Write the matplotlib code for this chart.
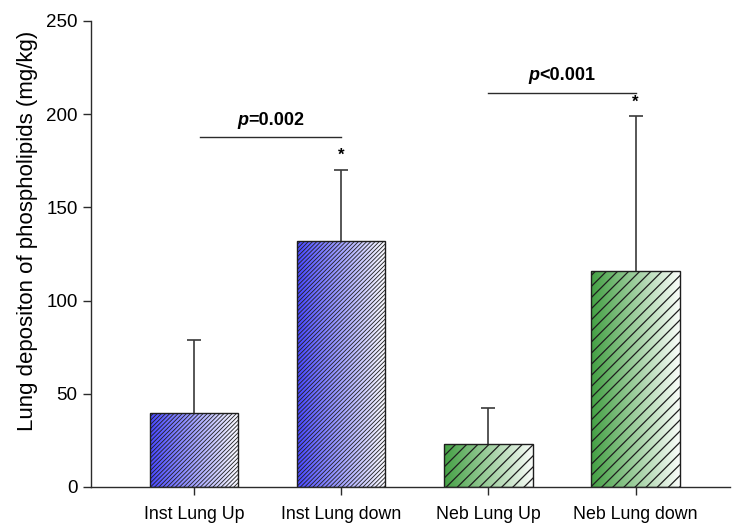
import matplotlib
matplotlib.use("Agg")
import matplotlib.pyplot as plt
import numpy as np
from matplotlib.colors import LinearSegmentedColormap
from matplotlib.offsetbox import AnnotationBbox, HPacker, TextArea

plt.rcParams["font.family"] = ["Liberation Sans", "DejaVu Sans"]
plt.rcParams["hatch.linewidth"] = 0.7

groups = ["Inst Lung Up", "Inst Lung down", "Neb Lung Up", "Neb Lung down"]
means = [39.7, 132.0, 22.9, 115.6]
sd_upper = [39.0, 38.2, 19.6, 83.2]
significant = [False, True, False, True]
comparisons = [(0, 1, 187.5, "=0.002"), (2, 3, 211.5, "<0.001")]

blue_cmap = LinearSegmentedColormap.from_list("blue_fade", ["#4848ff", "#fcfcff"])
green_cmap = LinearSegmentedColormap.from_list("green_fade", ["#43a043", "#fafdfa"])
bar_cmaps = [blue_cmap, blue_cmap, green_cmap, green_cmap]
bar_hatches = ["////////", "////////", "///", "///"]
hatch_widths = [0.6, 0.6, 0.9, 0.9]

fig = plt.figure(figsize=(7.32, 5.23), dpi=100)
ax = fig.add_axes([0.124, 0.069, 0.873, 0.891])

x = np.arange(len(groups))
width = 0.6
gradient = np.linspace(0, 1, 256).reshape(1, -1)

for i in range(len(groups)):
    bar = ax.bar(x[i], means[i], width=width, facecolor="none", edgecolor="#1e1e1e",
                 linewidth=1.0, hatch=bar_hatches[i], zorder=3)[0]
    if hasattr(bar, "set_hatch_linewidth"):
        bar.set_hatch_linewidth(hatch_widths[i])
    img = ax.imshow(gradient, cmap=bar_cmaps[i], aspect="auto", zorder=2,
                    extent=[x[i] - width / 2, x[i] + width / 2, 0, means[i]])
    img.set_clip_path(bar)

_, caps, _ = ax.errorbar(x, means, yerr=[np.zeros(len(means)), sd_upper], fmt="none",
                         ecolor="#3a3a3a", elinewidth=1.2, capsize=5, capthick=1.2, zorder=1)
caps[0].set_visible(False)  # no lower caps, SD shown upward only

# asterisks above the error caps
for i in range(len(groups)):
    if significant[i]:
        ax.annotate("*", (x[i], means[i] + sd_upper[i]), xytext=(0, 5),
                    textcoords="offset points", ha="center", va="bottom",
                    fontsize=12, fontweight="bold")

# comparison brackets with p-values (italic p, bold)
for a, b, level, label in comparisons:
    start = x[a] + (0.04 if a == 0 else 0.0)
    ax.plot([start, x[b]], [level, level], color="#2b2b2b", linewidth=1.0)
    txt = HPacker(children=[
        TextArea("p", textprops=dict(fontsize=13, fontweight="bold", fontstyle="italic")),
        TextArea(label, textprops=dict(fontsize=13, fontweight="bold")),
    ], align="baseline", pad=0, sep=0)
    ab = AnnotationBbox(txt, ((start + x[b]) / 2, level), xybox=(0, 6),
                        boxcoords="offset points", box_alignment=(0.5, 0), frameon=False)
    ax.add_artist(ab)

ax.set_xlim(-0.703, 3.64)
ax.set_ylim(0, 250)
ax.set_yticks([0, 50, 100, 150, 200, 250])
ax.set_xticks(x)
ax.set_xticklabels(groups, fontsize=12.8)
ax.tick_params(axis="y", labelsize=13.5, direction="out", length=6, width=1.0, color="#2b2b2b")
ax.tick_params(axis="x", direction="out", length=6, width=1.0, color="#2b2b2b", pad=8)
ax.set_ylabel("Lung depositon of phospholipids (mg/kg)", fontsize=16)
ax.yaxis.set_label_coords(-0.082, 0.55)

for side in ["top", "right"]:
    ax.spines[side].set_visible(False)
for side in ["left", "bottom"]:
    ax.spines[side].set_color("#2b2b2b")
    ax.spines[side].set_linewidth(1.0)

fig.savefig("out.png", dpi=100)
